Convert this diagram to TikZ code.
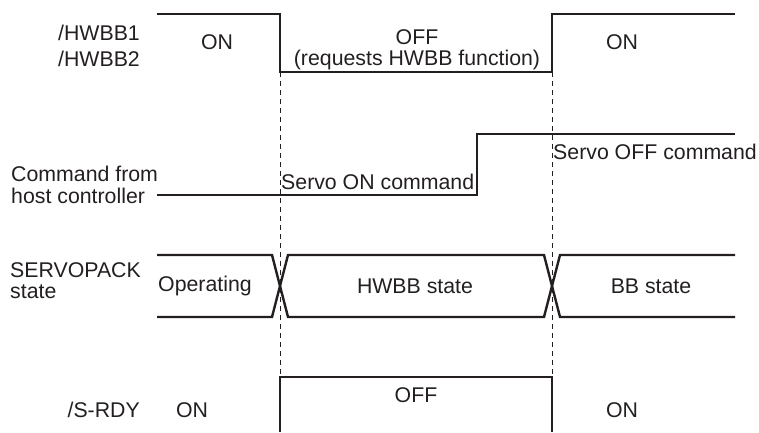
\documentclass[tikz,border=0pt]{standalone}
\usepackage{fontspec}
\setmainfont{Liberation Sans}
\definecolor{ink}{HTML}{231F20}
\begin{document}
\begin{tikzpicture}[x=1pt,y=-1pt,
  sig/.style={draw=ink,line width=2.4pt,line join=miter},
  guide/.style={draw=ink,line width=1pt,dash pattern=on 5pt off 4pt},
  lbl/.style={inner sep=0pt,text=ink,font=\fontsize{21.3}{23}\selectfont},
  lbll/.style={lbl,anchor=west,align=left}]
\useasboundingbox (0,0) rectangle (759,432);
% key coordinates
\coordinate (h0) at (157,14);
\coordinate (h1) at (280,14);
\coordinate (h2) at (280,72);
\coordinate (h3) at (552,72);
\coordinate (h4) at (552,14);
\coordinate (h5) at (735,14);
\coordinate (c0) at (157,195);
\coordinate (c1) at (477,195);
\coordinate (c2) at (477,134);
\coordinate (c3) at (735,134);
\coordinate (s1) at (280,377);
\coordinate (s2) at (552,377);
\coordinate (s0) at (280,432);
\coordinate (s3) at (552,432);
% guides
\draw[guide] (h2) -- (s1);
\draw[guide] (h3) -- (s2);
% HWBB
\draw[sig] (h0) -- (h1) -- (h2) -- (h3) -- (h4) -- (h5);
% command
\draw[sig] (c0) -- (c1) -- (c2) -- (c3);
% servopack state
\coordinate (pt0) at (157,255); \coordinate (pb0) at (157,317);
\coordinate (pt1) at (272,255); \coordinate (pb1) at (272,317);
\coordinate (pt2) at (288,255); \coordinate (pb2) at (288,317);
\coordinate (pt3) at (544,255); \coordinate (pb3) at (544,317);
\coordinate (pt4) at (560,255); \coordinate (pb4) at (560,317);
\coordinate (pt5) at (735,255); \coordinate (pb5) at (735,317);
\draw[sig] (pt0) -- (pt1) -- (pb2) -- (pb3) -- (pt4) -- (pt5);
\draw[sig] (pb0) -- (pb1) -- (pt2) -- (pt3) -- (pb4) -- (pb5);
% S-RDY
\draw[sig] (s0) -- (s1) -- (s2) -- (s3);
% labels left
\node[lbl,anchor=east] (l1) at (140,33) {/HWBB1};
\node[lbl,anchor=east] (l2) at (140,59) {/HWBB2};
\node[lbll] (l3) at (11,174) {Command from};
\node[lbll] (l4) at (11,196) {host controller};
\node[lbll] (l5) at (10,270) {SERVOPACK};
\node[lbll] (l6) at (10,292) {state};
\node[lbl,anchor=east] (l7) at (140,410) {/S-RDY};
% HWBB texts
\node[lbl] (t1) at (217,42) {ON};
\node[lbl] (t2) at (417,37) {OFF};
\node[lbl] (t3) at (417,60) {(requests HWBB function)};
\node[lbl] (t4) at (622,42) {ON};
% command texts
\node[lbl,anchor=west] (t5) at (281,182) {Servo ON command};
\node[lbl,anchor=west] (t6) at (553,152) {Servo OFF command};
% state texts
\node[lbl] (t7) at (205,286) {Operating};
\node[lbl] (t8) at (415,286) {HWBB state};
\node[lbl] (t9) at (651,286) {BB state};
% S-RDY texts
\node[lbl] (t10) at (192,410) {ON};
\node[lbl] (t11) at (416,395) {OFF};
\node[lbl] (t12) at (622,410) {ON};
\end{tikzpicture}
\end{document}
